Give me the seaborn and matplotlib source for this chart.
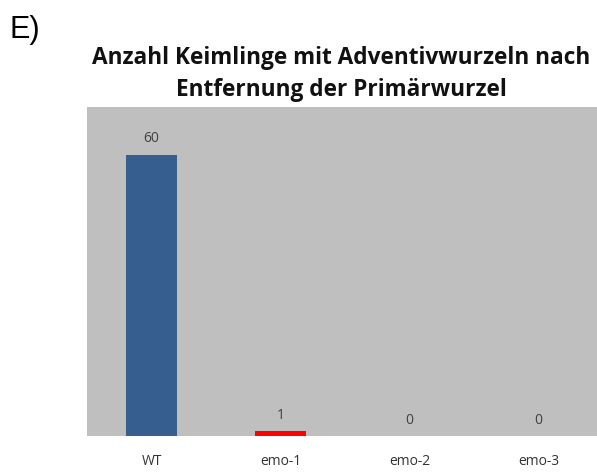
import matplotlib
matplotlib.use("Agg")
import matplotlib.pyplot as plt
import seaborn as sns
import pandas as pd

# data
genotypes = ["WT", "emo-1", "emo-2", "emo-3"]
counts = [60, 1, 0, 0]
bar_colors = ["#365E8F", "#FF0000", "#365E8F", "#365E8F"]

sns.set_style("white")
plt.rcParams['font.family'] = ['Open Sans', 'DejaVu Sans']

df = pd.DataFrame({"Genotyp": genotypes, "Anzahl": counts})

fig = plt.figure(figsize=(5.97, 4.74), dpi=100)
ax = fig.add_axes([87 / 597, 38 / 474, 516 / 597, 329 / 474])
ax.set_facecolor("#BFBFBF")

sns.barplot(data=df, x="Genotyp", y="Anzahl", hue="Genotyp",
            palette=bar_colors, width=0.4, legend=False, ax=ax,
            saturation=1, linewidth=0)

ax.set_ylim(0, 70.2)
ax.set_xlim(-0.5, 3.5)

for i, v in enumerate(counts):
    ax.annotate(str(v), (i, v), xytext=(0, 6), textcoords="offset points",
                ha="center", va="bottom", fontsize=10, color="#404040")

ax.set_xlabel("")
ax.set_ylabel("")
ax.set_yticks([])
ax.tick_params(axis="x", length=0, pad=13, labelsize=10, labelcolor="#333333")
for s in ax.spines.values():
    s.set_visible(False)

fig.text(341 / 597, 1 - 74 / 474,
         "Anzahl Keimlinge mit Adventivwurzeln nach\nEntfernung der Primärwurzel",
         ha="center", va="center", fontsize=16.3, fontweight="bold",
         linespacing=1.4, color="#111111")
fig.text(9 / 597, 1 - 30 / 474, "E)", ha="left", va="center", fontsize=22,
         color="black", family=["Liberation Sans", "DejaVu Sans"])

fig.savefig("out.png", dpi=100)
